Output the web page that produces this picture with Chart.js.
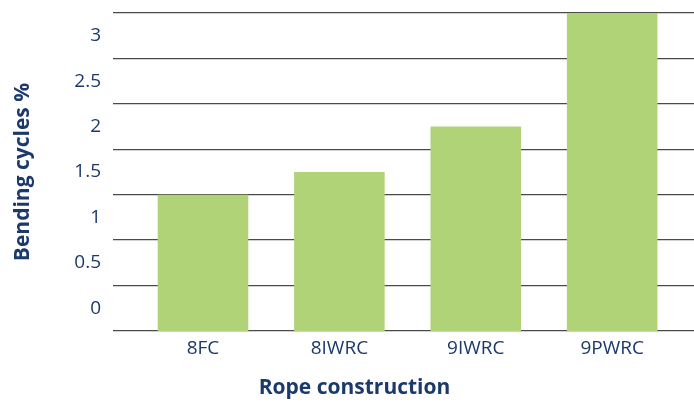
<!DOCTYPE html>
<html>
<head>
<meta charset="utf-8">
<script src="https://cdn.jsdelivr.net/npm/chart.js@4"></script>
<style>
  html, body { margin: 0; padding: 0; background: #fff; }
  #wrap { width: 694px; height: 403px; position: relative; }
</style>
</head>
<body>
<div id="wrap"><canvas id="chart"></canvas></div>
<script>
// categories and values
const categories = ['8FC', '8IWRC', '9IWRC', '9PWRC'];
const bendingCycles = [1.25, 1.5, 2.0, 3.25];
const yTicks = [0, 0.5, 1, 1.5, 2, 2.5, 3];
const yTickLabels = ['0', '0.5', '1', '1.5', '2', '2.5', '3'];
// grid lines sit between the labels in the original
const gridValues = [-0.25, 0.25, 0.75, 1.25, 1.75, 2.25, 2.75, 3.25];

const navy = '#1b3a6b';
const barGreen = '#b0d377';
const textFont = "'Open Sans', 'Noto Sans', sans-serif";

// x axis title is off centre in the original, so draw it by hand
const xTitlePlugin = {
  id: 'xTitle',
  afterDraw(chart) {
    const ctx = chart.ctx;
    const area = chart.chartArea;
    ctx.save();
    ctx.font = 'bold 21px ' + textFont;
    ctx.fillStyle = navy;
    ctx.textAlign = 'center';
    ctx.textBaseline = 'middle';
    ctx.fillText('Rope construction', (area.left + area.right) / 2 - 49, area.bottom + 57);
    ctx.restore();
  }
};

function noEdgePadding(scale) {
  scale.paddingTop = 0;
  scale.paddingBottom = 0;
}

const ctx = document.getElementById('chart').getContext('2d');
new Chart(ctx, {
  type: 'bar',
  data: {
    datasets: [{
      label: 'Bending cycles %',
      data: bendingCycles.map((v, i) => ({ x: i, y: v })),
      backgroundColor: barGreen,
      borderWidth: 0,
      base: -0.25,
      barPercentage: 0.664,
      categoryPercentage: 1,
      yAxisID: 'y'
    }]
  },
  options: {
    responsive: true,
    maintainAspectRatio: false,
    animation: false,
    layout: { padding: { top: 13, right: 0, left: 0, bottom: 0 } },
    plugins: {
      legend: { display: false },
      tooltip: { enabled: false }
    },
    scales: {
      x: {
        type: 'linear',
        offset: false,
        min: -0.66,
        max: 3.6,
        grid: { display: false, drawTicks: false },
        border: { display: false },
        afterBuildTicks: (scale) => { scale.ticks = categories.map((c, i) => ({ value: i })); },
        afterFit: (scale) => { scale.height = 72; scale.paddingLeft = 0; scale.paddingRight = 0; },
        ticks: {
          padding: 6,
          color: navy,
          font: { family: textFont, size: 19 },
          callback: (v) => categories[v]
        }
      },
      y: {
        position: 'left',
        min: -0.25,
        max: 3.25,
        grid: { display: false, drawTicks: false },
        border: { display: false },
        afterBuildTicks: (scale) => { scale.ticks = yTicks.map(v => ({ value: v })); },
        afterFit: (scale) => { scale.width = 113; noEdgePadding(scale); },
        ticks: {
          padding: 12,
          color: navy,
          font: { family: textFont, size: 19 },
          callback: (v) => yTickLabels[yTicks.indexOf(v)]
        },
        title: {
          display: true,
          text: 'Bending cycles %',
          color: navy,
          font: { family: textFont, size: 21, weight: 'bold' },
          padding: { top: 10, bottom: 0 }
        }
      },
      yGrid: {
        position: 'right',
        min: -0.25,
        max: 3.25,
        afterBuildTicks: (scale) => { scale.ticks = gridValues.map(v => ({ value: v })); },
        afterFit: (scale) => { scale.width = 0; noEdgePadding(scale); },
        ticks: { display: false },
        border: { display: false },
        grid: { color: '#4a4a4a', lineWidth: 1.3, drawTicks: false }
      }
    }
  },
  plugins: [xTitlePlugin]
});
</script>
</body>
</html>
